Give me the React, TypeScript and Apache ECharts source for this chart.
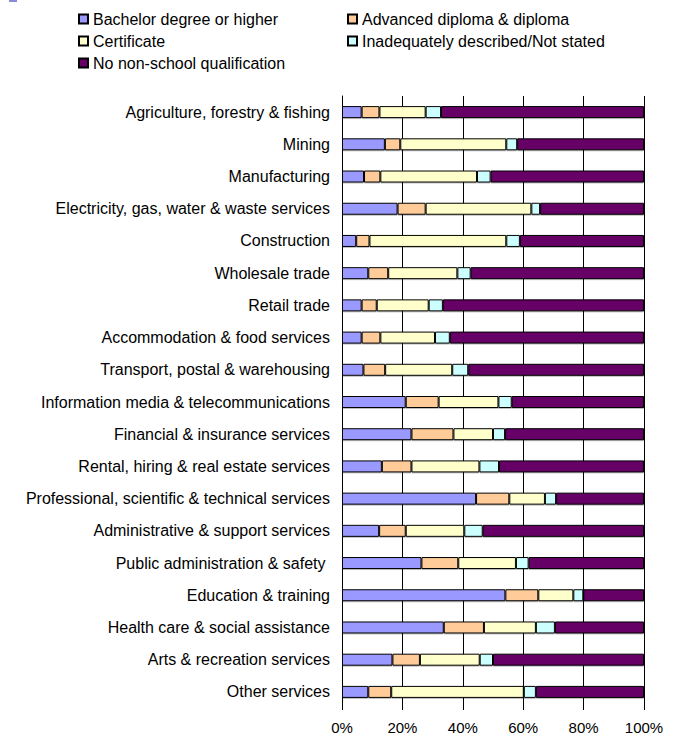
import React, { useEffect, useRef } from "react";
import * as echarts from "echarts";

const categories = [
  "Agriculture, forestry & fishing",
  "Mining",
  "Manufacturing",
  "Electricity, gas, water & waste services",
  "Construction",
  "Wholesale trade",
  "Retail trade",
  "Accommodation & food services",
  "Transport, postal & warehousing",
  "Information media & telecommunications",
  "Financial & insurance services",
  "Rental, hiring & real estate services",
  "Professional, scientific & technical services",
  "Administrative & support services",
  "Public administration & safety ",
  "Education & training",
  "Health care & social assistance",
  "Arts & recreation services",
  "Other services",
];

const seriesNames = [
  "Bachelor degree or higher",
  "Advanced diploma & diploma",
  "Certificate",
  "Inadequately described/Not stated",
  "No non-school qualification",
];

const bachelor = [6.5, 14.2, 7.3, 18.4, 4.7, 8.7, 6.5, 6.5, 7.1, 21.1, 23.0, 13.2, 44.4, 12.3, 26.3, 54.1, 33.7, 16.7, 8.7];
const advanced = [5.9, 5.1, 5.4, 9.3, 4.4, 6.6, 5.0, 6.2, 7.2, 10.9, 13.9, 9.8, 11.0, 8.8, 12.2, 10.9, 13.3, 9.1, 7.6];
const certificate = [15.3, 35.1, 32.0, 35.0, 45.3, 22.9, 17.2, 18.1, 22.2, 19.8, 13.1, 22.5, 11.8, 19.4, 19.1, 11.6, 17.2, 19.8, 43.9];
const inadequate = [5.1, 3.6, 4.5, 2.9, 4.5, 4.4, 4.7, 4.9, 5.3, 4.4, 4.0, 6.5, 3.7, 6.1, 4.2, 3.3, 6.3, 4.4, 4.0];
const noQual = [67.2, 42.0, 50.8, 34.4, 41.1, 57.4, 66.6, 64.3, 58.2, 43.8, 46.0, 48.0, 29.1, 53.4, 38.2, 20.1, 29.5, 50.0, 35.8];

const seriesData = [bachelor, advanced, certificate, inadequate, noQual];
const colors = ["#9999FF", "#FFCC99", "#FFFFCC", "#CCFFFF", "#660066"];

const FONT = "'Liberation Sans', Arial, sans-serif";

export default function App() {
  const ref = useRef<HTMLDivElement>(null);

  useEffect(() => {
    if (!ref.current) return;
    const chart = echarts.init(ref.current, undefined, { renderer: "svg" });
    const legendCommon = {
      orient: "vertical" as const,
      top: 11,
      padding: 0,
      itemWidth: 9,
      itemHeight: 9,
      itemGap: 6,
      icon: "rect",
      textStyle: { fontSize: 16, color: "#000", fontFamily: FONT },
    };
    chart.setOption({
      animation: false,
      backgroundColor: "#fff",
      textStyle: { fontFamily: FONT },
      legend: [
        { ...legendCommon, left: 78, data: [seriesNames[0], seriesNames[2], seriesNames[4]] },
        { ...legendCommon, left: 347, data: [seriesNames[1], seriesNames[3]] },
      ],
      grid: { left: 342, right: 30, top: 96, bottom: 29, containLabel: false, outerBoundsMode: "none" },
      xAxis: {
        type: "value",
        min: 0,
        max: 100,
        interval: 20,
        axisLine: { show: false },
        axisTick: { show: true, length: 2, lineStyle: { color: "#000" } },
        splitLine: { show: true, lineStyle: { color: "#000", width: 1 } },
        axisLabel: { formatter: "{value}%", fontSize: 15, color: "#000", margin: 12, fontFamily: FONT },
      },
      yAxis: {
        type: "category",
        inverse: true,
        data: categories,
        axisLine: { show: true, lineStyle: { color: "#000", width: 1 } },
        axisTick: { show: false },
        axisLabel: { fontSize: 16, color: "#000", margin: 12, fontFamily: FONT },
      },
      series: seriesNames.map((name, i) => ({
        name,
        type: "bar",
        stack: "total",
        barWidth: 12,
        data: seriesData[i],
        itemStyle: {
          color: colors[i],
          borderColor: "#000",
          borderWidth: 1,
          shadowColor: "rgba(0,0,0,0.25)",
          shadowOffsetY: 1,
          shadowBlur: 1,
        },
      })),
      graphic: [
        { type: "rect", left: 9, top: 0, shape: { width: 8, height: 2 }, style: { fill: "#8a8ad8" } },
      ],
    });
    return () => chart.dispose();
  }, []);

  return (
    <div
      ref={ref}
      style={{ position: "fixed", left: 0, top: 0, width: 674, height: 737, background: "#fff" }}
    />
  );
}
